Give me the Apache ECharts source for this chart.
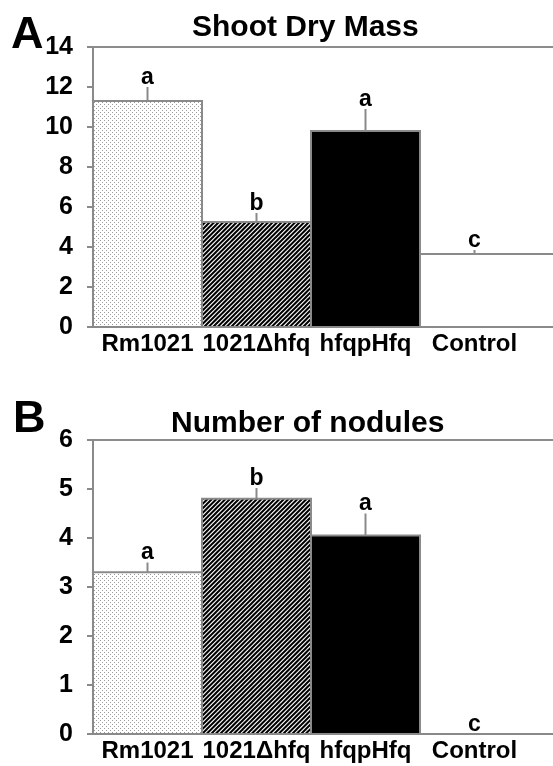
<!DOCTYPE html>
<html><head><meta charset="utf-8">
<script src="https://cdn.jsdelivr.net/npm/echarts@6/dist/echarts.min.js"></script>
<style>html,body{margin:0;padding:0;background:#fff;overflow:hidden}#c{width:553px;height:766px;overflow:hidden}</style>
</head><body><div id="c"></div>
<script>
const categories = ['Rm1021', '1021Δhfq', 'hfqpHfq', 'Control'];
const shootMass = [11.3, 5.25, 9.8, 3.65];
const shootErr = [0.7, 0.45, 1.1, 0.2];
const shootLetters = ['a', 'b', 'a', 'c'];
const nodules = [3.3, 4.8, 4.05, 0];
const noduleErr = [0.2, 0.22, 0.45, 0];
const noduleLetters = ['a', 'b', 'a', 'c'];
const shootTicks = [0, 14, 2];
const noduleTicks = [0, 6, 1];

const FONT = '"Liberation Sans", Arial, sans-serif';
const GRAY = '#8a8a8a';
const GRAY_X = '#898989';
const GRAY_TOP = '#8c8c8c';

function dotPattern() {
  const c = document.createElement('canvas'); c.width = 4; c.height = 4;
  const g = c.getContext('2d');
  g.fillStyle = '#fff'; g.fillRect(0, 0, 4, 4);
  g.fillStyle = '#9a9a9a'; g.fillRect(0, 0, 1, 1); g.fillRect(2, 2, 1, 1);
  return c;
}
function hatchPattern() {
  const s = 9;
  const c = document.createElement('canvas'); c.width = s; c.height = s;
  const g = c.getContext('2d');
  g.fillStyle = '#fff'; g.fillRect(0, 0, s, s);
  g.strokeStyle = '#000'; g.lineWidth = 2;
  for (const k of [-9, -4.5, 0, 4.5, 9]) {
    g.beginPath(); g.moveTo(k - 1, s + 1); g.lineTo(k + s + 1, -1); g.stroke();
  }
  return c;
}
const fills = [
  { image: dotPattern(), repeat: 'repeat' },
  { image: hatchPattern(), repeat: 'repeat' },
  '#000',
  '#fff'
];

function makeRender(letters) {
  return function (params, api) {
    const i = api.value(0), v = api.value(1), e = api.value(2);
    const top = api.coord([i, v]);
    const base = api.coord([i, 0]);
    const bw = api.size([1, 0])[0];
    const x0 = top[0] - bw / 2;
    const last = i === categories.length - 1;
    const x1 = last ? top[0] + bw * 1.5 : top[0] + bw / 2;
    const errTop = api.coord([i, v + e]);
    const children = [];
    if (v > 0) {
      children.push({
        type: 'rect',
        shape: { x: x0, y: top[1], width: x1 - x0, height: base[1] - top[1] },
        style: { fill: fills[i], stroke: GRAY, lineWidth: 2 }
      });
    }
    if (e > 0) {
      children.push({
        type: 'line',
        shape: { x1: top[0], y1: top[1], x2: top[0], y2: errTop[1] },
        style: { stroke: GRAY, lineWidth: 2 }
      });
    }
    children.push({
      type: 'text',
      style: {
        text: letters[i], x: top[0], y: errTop[1] + 2,
        align: 'center', verticalAlign: 'bottom',
        font: 'bold 23px ' + FONT, fill: '#000'
      }
    });
    return { type: 'group', children };
  };
}

const xCats = categories.concat(['']);
function xAxis(gi) {
  return {
    type: 'category', gridIndex: gi, data: xCats,
    axisLine: { lineStyle: { color: GRAY_X, width: 2 } },
    axisTick: { show: false },
    axisLabel: { color: '#000', fontWeight: 'bold', fontSize: 24, fontFamily: FONT, margin: 5, interval: 0, hideOverlap: false },
    splitLine: { show: false }
  };
}
function topAxis(gi) {
  return {
    type: 'category', gridIndex: gi, data: xCats, position: 'top',
    axisLine: { show: true, lineStyle: { color: GRAY_TOP, width: 2 } },
    axisTick: { show: false }, axisLabel: { show: false }, splitLine: { show: false }
  };
}
function yAxis(gi, t) {
  return {
    type: 'value', gridIndex: gi, min: t[0], max: t[1], interval: t[2],
    axisLine: { show: true, lineStyle: { color: GRAY, width: 2 } },
    axisTick: { show: true, length: 6, lineStyle: { color: GRAY, width: 2 } },
    axisLabel: { color: '#000', fontWeight: 'bold', fontSize: 25, fontFamily: FONT, margin: 20 },
    splitLine: { show: false }
  };
}

const chart = echarts.init(document.getElementById('c'), null, { renderer: 'canvas' });
chart.setOption({
  animation: false,
  backgroundColor: '#fff',
  title: [
    { text: 'A', left: 6, top: 8, textStyle: { fontSize: 45, fontWeight: 'bold', fontFamily: FONT, color: '#000' } },
    { text: 'Shoot Dry Mass', left: 187, top: 8, textStyle: { fontSize: 30, fontWeight: 'bold', fontFamily: FONT, color: '#000' } },
    { text: 'B', left: 8, top: 392, textStyle: { fontSize: 45, fontWeight: 'bold', fontFamily: FONT, color: '#000' } },
    { text: 'Number of nodules', left: 166, top: 404, textStyle: { fontSize: 30, fontWeight: 'bold', fontFamily: FONT, color: '#000' } }
  ],
  grid: [
    { left: 93, top: 47, width: 545, height: 280, outerBoundsMode: 'none', containLabel: false },
    { left: 93, top: 440, width: 545, height: 294, outerBoundsMode: 'none', containLabel: false }
  ],
  xAxis: [xAxis(0), xAxis(1), topAxis(0), topAxis(1)],
  yAxis: [yAxis(0, shootTicks), yAxis(1, noduleTicks)],
  series: [
    {
      type: 'custom', xAxisIndex: 0, yAxisIndex: 0, clip: false,
      renderItem: makeRender(shootLetters),
      encode: { x: 0, y: 1 },
      data: categories.map((c, i) => [i, shootMass[i], shootErr[i]])
    },
    {
      type: 'custom', xAxisIndex: 1, yAxisIndex: 1, clip: false,
      renderItem: makeRender(noduleLetters),
      encode: { x: 0, y: 1 },
      data: categories.map((c, i) => [i, nodules[i], noduleErr[i]])
    }
  ]
});
</script></body></html>
